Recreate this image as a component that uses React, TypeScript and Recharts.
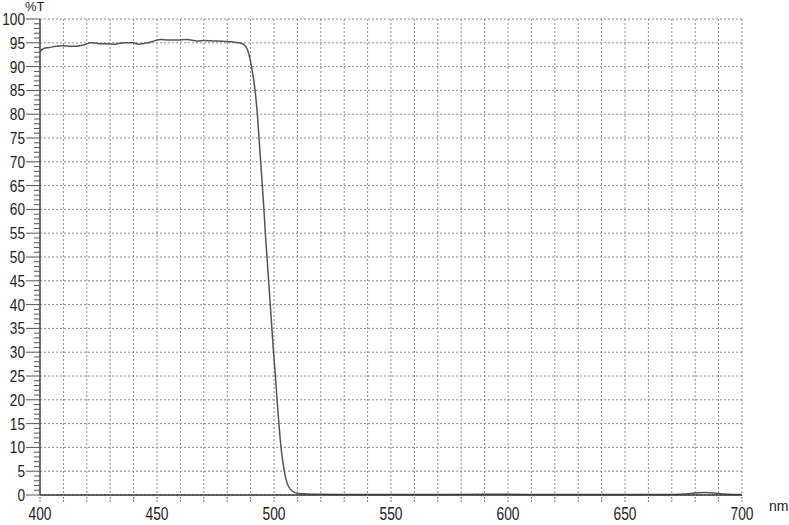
import { LineChart, Line, XAxis, YAxis, CartesianGrid } from 'recharts';

// wavelength (nm) and transmittance (%T)
const wavelengths = [
  400, 401.5, 404, 406, 410, 413, 416, 419, 421.5, 424, 426, 429, 431.5, 434, 436, 440, 442, 444, 446, 449,
  451.5, 455, 458, 463, 467, 470, 474, 478, 482, 485, 486.9, 488.6, 490.4, 491.9, 492.9, 493.6, 494.3, 495.0,
  495.7, 496.3, 497.0, 497.7, 498.4, 499.1, 499.8, 500.6, 501.3, 502.1, 503.0, 504.4, 506, 509, 512, 517,
  530, 560, 590, 600, 620, 650, 670, 676, 680, 684, 688, 692, 696, 700,
];
const transmittance = [
  93.1, 93.8, 94.0, 94.2, 94.4, 94.3, 94.3, 94.6, 95.0, 94.9, 94.8, 94.8, 94.7, 94.9, 95.0, 95.0, 94.7, 94.8, 95.0, 95.4,
  95.7, 95.6, 95.6, 95.7, 95.4, 95.5, 95.4, 95.3, 95.2, 95.0, 94.7, 93.6, 90, 85, 80, 75, 70, 65,
  60, 55, 50, 45, 40, 35, 30, 25, 20, 15, 10, 5, 2, 0.5, 0.25, 0.15,
  0.1, 0.1, 0.15, 0.15, 0.1, 0.1, 0.1, 0.2, 0.4, 0.5, 0.4, 0.2, 0.1, 0.1,
];

const xTicks = Array.from({ length: 31 }, (_, i) => 400 + i * 10);
const yMinorTicks = Array.from({ length: 101 }, (_, i) => i);
const yMajorTicks = Array.from({ length: 21 }, (_, i) => i * 5);

const data = wavelengths.map((nm, i) => ({ nm, t: transmittance[i] }));

const FONT = '"Liberation Sans", Arial, sans-serif';

function YTick(props: any) {
  const { x, y, payload } = props;
  const v = payload.value as number;
  const major = v % 5 === 0;
  const s = String(v);
  return (
    <g>
      <line x1={major ? x - 14 : x - 6} x2={x} y1={y} y2={y} stroke="#555" strokeWidth={1} />
      {major && (
        <text
          x={x - 15} y={y + 6} textAnchor="end" fontSize={17} fontFamily={FONT} fill="#222"
          textLength={s.length * 7.6} lengthAdjust="spacingAndGlyphs"
        >
          {s}
        </text>
      )}
    </g>
  );
}

function XTick(props: any) {
  const { x, y, payload } = props;
  const v = payload.value as number;
  if (v % 50 !== 0) return <g />;
  return (
    <text
      x={x} y={y + 18} textAnchor="middle" fontSize={18} fontFamily={FONT} fill="#222"
      textLength={23} lengthAdjust="spacingAndGlyphs"
    >
      {v}
    </text>
  );
}

function gridRows({ yAxis, offset }: any) {
  return yMajorTicks.map((v) =>
    yAxis && typeof yAxis.scale === 'function' ? yAxis.scale(v) : offset.top + offset.height * (1 - v / 100)
  );
}

export default function App() {
  return (
    <div style={{ position: 'absolute', left: 0, top: 0, width: 789, height: 525, background: '#fff' }}>
      <LineChart width={789} height={525} data={data} margin={{ top: 19, right: 47, bottom: 0, left: 0 }}>
        <CartesianGrid
          stroke="#8a8a8a" strokeDasharray="2 2" strokeWidth={1}
          horizontalCoordinatesGenerator={gridRows}
        />
        <XAxis
          dataKey="nm" type="number" domain={[400, 700]} ticks={xTicks} interval={0}
          height={30} axisLine={{ stroke: '#333', strokeWidth: 1.3 }}
          tickLine={{ stroke: '#777', strokeDasharray: '2 1' }} tickSize={7} tickMargin={0}
          tick={<XTick />}
        />
        <YAxis
          type="number" domain={[0, 100]} ticks={yMinorTicks} interval={0}
          width={40} axisLine={{ stroke: '#333', strokeWidth: 1.3 }} tickLine={false}
          tickSize={0} tickMargin={0} tick={<YTick />}
        />
        <Line
          dataKey="t" type="monotone" stroke="#555" strokeWidth={1.5}
          dot={false} isAnimationActive={false}
        />
      </LineChart>
      <div style={{ position: 'absolute', left: 25, top: 0, fontSize: 13, lineHeight: '14px', fontFamily: FONT, color: '#222' }}>%T</div>
      <div style={{ position: 'absolute', left: 769, top: 498, fontSize: 14, lineHeight: '16px', fontFamily: FONT, color: '#222' }}>nm</div>
    </div>
  );
}
